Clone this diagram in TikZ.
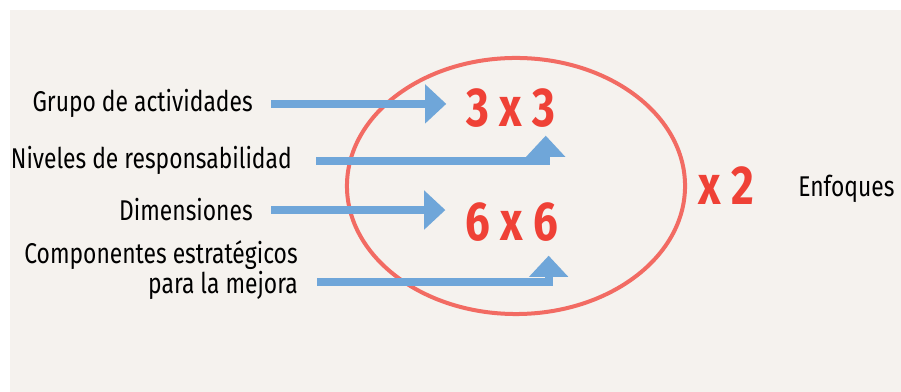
\documentclass[tikz,border=0pt]{standalone}
\usepackage{fontspec}
\setmainfont{Fira Sans}[FakeStretch=0.8]
\usetikzlibrary{arrows.meta,shapes.geometric}
\definecolor{fondo}{HTML}{F5F2EE}
\definecolor{azul}{HTML}{6FA6D9}
\definecolor{rojo}{HTML}{EF4136}
\definecolor{rosa}{HTML}{F26B63}
\begin{document}
\begin{tikzpicture}[
    x=0.025cm, y=-0.025cm,
    etiqueta/.style={font=\fontsize{20.3}{19}\selectfont, inner sep=0pt, align=right},
    valor/.style={font=\fontsize{39}{44}\selectfont\bfseries, text=rojo, inner sep=0pt},
    flecha/.style={-{Triangle[width=0.95cm,length=0.53cm]}, draw=azul, line width=0.2cm}
]

% Background
\useasboundingbox (0,0) rectangle (901,392);
\fill[white] (0,0) rectangle (901,392);
\fill[fondo] (10,10) rectangle (901,392);

% Ellipse
\node[ellipse, draw=rosa, line width=0.1cm, minimum width=8.45cm, minimum height=6.4cm, inner sep=0pt] (enfoque) at (516,186) {};

% Values
\node[valor] (tres) at (511,108) {3 x 3};
\node[valor] (seis) at (512,222) {6 x 6};
\node[valor] (dos) at (726,186) {x 2};
\node[etiqueta, anchor=base west] (enfoques) at (798,197) {Enfoques};

% Labels
\node[etiqueta, anchor=base east] (grupo) at (253,112) {Grupo de actividades};
\node[etiqueta, anchor=base east] (niveles) at (292,169) {Niveles de responsabilidad};
\node[etiqueta, anchor=base east] (dimensiones) at (253,221) {Dimensiones};
\node[etiqueta, anchor=south east] (componentes) at (298,300) {Componentes estratégicos\\para la mejora};

% Arrows
\draw[flecha] ([xshift=0.45cm]grupo.east) -- ([xshift=-0.5cm]tres.west |- grupo.east);
\draw[flecha] ([xshift=0.6cm]niveles.east) -| ([xshift=-0.25cm,yshift=-0.2cm]tres.south east);
\draw[flecha] ([xshift=0.45cm]dimensiones.east) -- ([xshift=-0.5cm]seis.west |- dimensiones.east);
\draw[flecha] ([xshift=0.475cm,yshift=0.45cm]componentes.south east) -| ([xshift=-0.25cm,yshift=-0.35cm]seis.south east);

\end{tikzpicture}
\end{document}
